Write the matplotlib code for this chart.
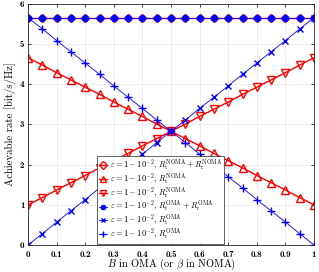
import matplotlib
matplotlib.use("Agg")
import matplotlib.pyplot as plt

plt.rcParams['font.family'] = ['cmr10', 'DejaVu Serif']
plt.rcParams['mathtext.fontset'] = 'cm'
plt.rcParams['axes.formatter.use_mathtext'] = True

x = [0.00, 0.05, 0.10, 0.15, 0.20, 0.25, 0.30, 0.35, 0.40, 0.45, 0.50,
     0.55, 0.60, 0.65, 0.70, 0.75, 0.80, 0.85, 0.90, 0.95, 1.00]
sum_noma = [5.66] * 21
sum_oma = [5.66] * 21
rt_noma = [4.66, 4.48, 4.29, 4.11, 3.93, 3.75, 3.56, 3.38, 3.20, 3.01, 2.83,
           2.65, 2.47, 2.28, 2.10, 1.92, 1.73, 1.55, 1.37, 1.18, 1.00]
rr_noma = [1.00, 1.18, 1.37, 1.55, 1.73, 1.92, 2.10, 2.28, 2.47, 2.65, 2.83,
           3.01, 3.20, 3.38, 3.56, 3.75, 3.93, 4.11, 4.29, 4.48, 4.66]
rt_oma = [0.00, 0.28, 0.57, 0.85, 1.13, 1.42, 1.70, 1.98, 2.26, 2.55, 2.83,
          3.11, 3.40, 3.68, 3.96, 4.25, 4.53, 4.81, 5.09, 5.38, 5.66]
rr_oma = [5.66, 5.38, 5.09, 4.81, 4.53, 4.25, 3.96, 3.68, 3.40, 3.11, 2.83,
          2.55, 2.26, 1.98, 1.70, 1.42, 1.13, 0.85, 0.57, 0.28, 0.00]
xticks = [0, 0.1, 0.2, 0.3, 0.4, 0.5, 0.6, 0.7, 0.8, 0.9, 1]
xticklabels = ['0', '0.1', '0.2', '0.3', '0.4', '0.5', '0.6', '0.7', '0.8', '0.9', '1']
yticks = [0, 1, 2, 3, 4, 5, 6]
yticklabels = ['0', '1', '2', '3', '4', '5', '6']

labels = [r'$\varepsilon=1-10^{-2}$, $R_{\rm t}^{\rm NOMA}+R_{\rm r}^{\rm NOMA}$',
          r'$\varepsilon=1-10^{-2}$, $R_{\rm t}^{\rm NOMA}$',
          r'$\varepsilon=1-10^{-2}$, $R_{\rm r}^{\rm NOMA}$',
          r'$\varepsilon=1-10^{-2}$, $R_{\rm t}^{\rm OMA}+R_{\rm r}^{\rm OMA}$',
          r'$\varepsilon=1-10^{-2}$, $R_{\rm t}^{\rm OMA}$',
          r'$\varepsilon=1-10^{-2}$, $R_{\rm r}^{\rm OMA}$']

fig = plt.figure(figsize=(3.19, 2.72), dpi=100)
ax = fig.add_axes([0.0878, 0.0993, 0.8966, 0.886])

red = '#ff0000'
blue = '#0000ff'
ax.plot(x, sum_noma, color=red, lw=1.0, marker='D', ms=4.5, mfc='none', mec=red, mew=1.0, label=labels[0])
ax.plot(x, rt_noma, color=red, lw=1.0, marker='^', ms=6, mfc='none', mec=red, mew=1.0, label=labels[1])
ax.plot(x, rr_noma, color=red, lw=1.0, marker='v', ms=6, mfc='none', mec=red, mew=1.0, label=labels[2])
ax.plot(x, sum_oma, color=blue, lw=0.6, marker='8', ms=4.5, mfc=blue, mec=blue, label=labels[3])
ax.plot(x, rt_oma, color=blue, lw=0.6, marker='x', ms=4, mew=1.0, label=labels[4])
ax.plot(x, rr_oma, color=blue, lw=0.6, marker='+', ms=5.5, mew=1.0, label=labels[5])

ax.set_xlim(0, 1)
ax.set_ylim(0, 6)
ax.set_xticks(xticks)
ax.set_xticklabels(xticklabels, fontfamily='cmb10')
ax.set_yticks(yticks)
ax.set_yticklabels(yticklabels, fontfamily='cmb10')
ax.tick_params(labelsize=6.5, direction='in', length=2.5, width=0.5, top=True, right=True)
ax.tick_params(axis='x', pad=4)
ax.tick_params(axis='y', pad=2.5)
ax.grid(True, color='#e6e6e6', lw=0.5)
ax.set_axisbelow(True)
for s in ax.spines.values():
    s.set_linewidth(0.6)
    s.set_color('#262626')
ax.set_xlabel(r'$B$ in OMA (or $\beta$ in NOMA)', fontsize=7.5)
ax.xaxis.set_label_coords(0.5, -0.05, transform=ax.transAxes)
ax.xaxis.label.set_va('top')
ax.set_ylabel('Achievable rate [bit/s/Hz]', fontsize=7.8, labelpad=3)

leg = ax.legend(loc='lower left', bbox_to_anchor=(0.241, 0.005), fontsize=6.0,
                frameon=True, fancybox=False, edgecolor='#262626', framealpha=1,
                borderpad=0.2, labelspacing=-0.15, handlelength=1.0, handletextpad=0.4,
                borderaxespad=0, markerscale=0.8)
leg.get_frame().set_linewidth(0.5)

fig.savefig('out.png', dpi=100)
